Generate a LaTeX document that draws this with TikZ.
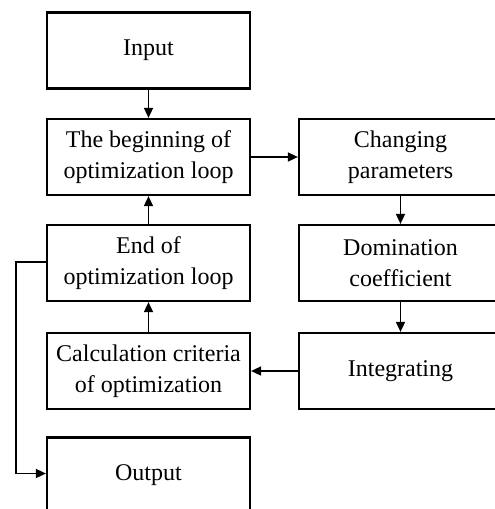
\documentclass[tikz,border=0pt]{standalone}
\usepackage{fontspec}
\setmainfont{Liberation Serif}
\usetikzlibrary{arrows.meta}
\tikzset{
  box/.style={draw, line width=2.2pt, minimum width=203pt, minimum height=76pt,
    inner sep=0pt, align=center, font=\fontsize{24}{31}\selectfont, fill=white},
  conn/.style={line width=1.6pt, -{Triangle[length=10pt,width=9pt]}}
}
\begin{document}
\begin{tikzpicture}[x=1pt,y=1pt]
\clip (0,0) rectangle (495,-509);
\fill[white] (0,0) rectangle (495,-509);
\node[box] (in) at (148.5,-50.5) {Input};
\node[box] (beg) at (148.5,-157) {The beginning of\\optimization loop};
\node[box] (chg) at (400.5,-157) {Changing\\parameters};
\node[box] (end) at (148.5,-263) {End of\\optimization loop};
\node[box] (dom) at (400.5,-263) {Domination\\coefficient};
\node[box] (calc) at (148.5,-371) {Calculation criteria\\of optimization};
\node[box] (int) at (400.5,-371) {Integrating};
\node[box] (out) at (148.5,-475.5) {Output};
\coordinate (lp) at (16,-262);
\draw[conn] (in) -- (beg);
\draw[conn] (beg) -- (chg);
\draw[conn] (chg) -- (dom);
\draw[conn] (dom) -- (int);
\draw[conn] (int) -- (calc);
\draw[conn] (calc) -- (end);
\draw[conn] (end) -- (beg);
\draw[conn] (end.west |- lp) -- (lp) |- ([yshift=2pt]out.west);
\end{tikzpicture}
\end{document}
